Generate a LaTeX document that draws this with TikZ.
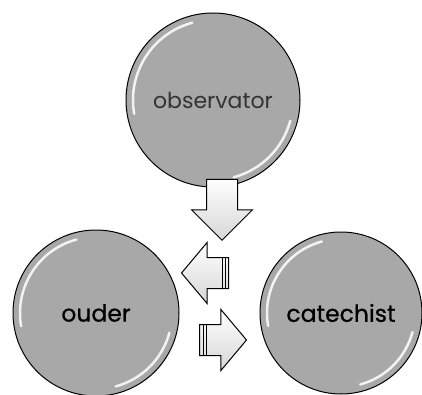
\documentclass[tikz,border=0pt]{standalone}
\usepackage{fontspec}
\setmainfont{Poppins}
\usetikzlibrary{shapes.arrows}

\definecolor{bolgrijs}{HTML}{A8A8A8}
\definecolor{pijlgrijs}{HTML}{D6D6D6}

\tikzset{
  bol/.style={circle,draw=black,line width=1pt,fill=bolgrijs,inner sep=0pt},
  glans/.style={white,line width=2.5pt,line cap=round,opacity=.85},
  blokpijl/.style={single arrow,draw=black,line width=1pt,
    top color=white,bottom color=pijlgrijs,
    single arrow head extend=15pt,inner xsep=0pt,inner ysep=15pt},
}

\begin{document}
\begin{tikzpicture}[x=1pt,y=1pt]
      % vaste afmetingen van het plaatje
      \useasboundingbox (0,0) rectangle (422,394);

      % de drie bollen
      \node[bol,minimum size=174pt] (obs) at (213,294) {};
      \node[bol,minimum size=166pt] (ouder) at (96,81) {};
      \node[bol,minimum size=162pt] (cat) at (341,81) {};

      % glansranden
      \draw[glans] (obs.center) ++(105:80pt) arc[start angle=105,end angle=190,radius=80pt];
      \draw[glans] (obs.center) ++(-15:80pt) arc[start angle=-15,end angle=-75,radius=80pt];
      \draw[glans] (ouder.center) ++(105:76pt) arc[start angle=105,end angle=190,radius=76pt];
      \draw[glans] (ouder.center) ++(-15:76pt) arc[start angle=-15,end angle=-75,radius=76pt];
      \draw[glans] (cat.center) ++(105:74pt) arc[start angle=105,end angle=190,radius=74pt];
      \draw[glans] (cat.center) ++(-15:74pt) arc[start angle=-15,end angle=-75,radius=74pt];

      % teksten
      \node[text=black!80,font=\fontsize{22}{26}\selectfont] (tobs) at (obs.center) {observator};
      \node[text=black,font=\fontsize{23.5}{28}\selectfont\addfontfeatures{FakeBold=0.6}] (touder) at (ouder.center) {ouder};
      \node[text=black,font=\fontsize{23.5}{28}\selectfont\addfontfeatures{FakeBold=0.6}] (tcat) at (cat.center) {catechist};

      % pijlen
      \node[blokpijl,minimum height=61pt,rotate=-90] (neer) at (222,192) {};
      \node[blokpijl,minimum height=47pt,rotate=180,single arrow tip angle=100] (links) at (211.5,121) {};
      \node[blokpijl,minimum height=47pt,single arrow tip angle=100] (rechts) at (216.5,54) {};

      % streepjes bij de staart
      \foreach \p/\s in {links/-4pt,links/-7pt,rechts/4pt,rechts/7pt}
        \draw[line width=.8pt] ([xshift=\s]\p.before tail) -- ([xshift=\s]\p.after tail);
    \end{tikzpicture}
\end{document}
